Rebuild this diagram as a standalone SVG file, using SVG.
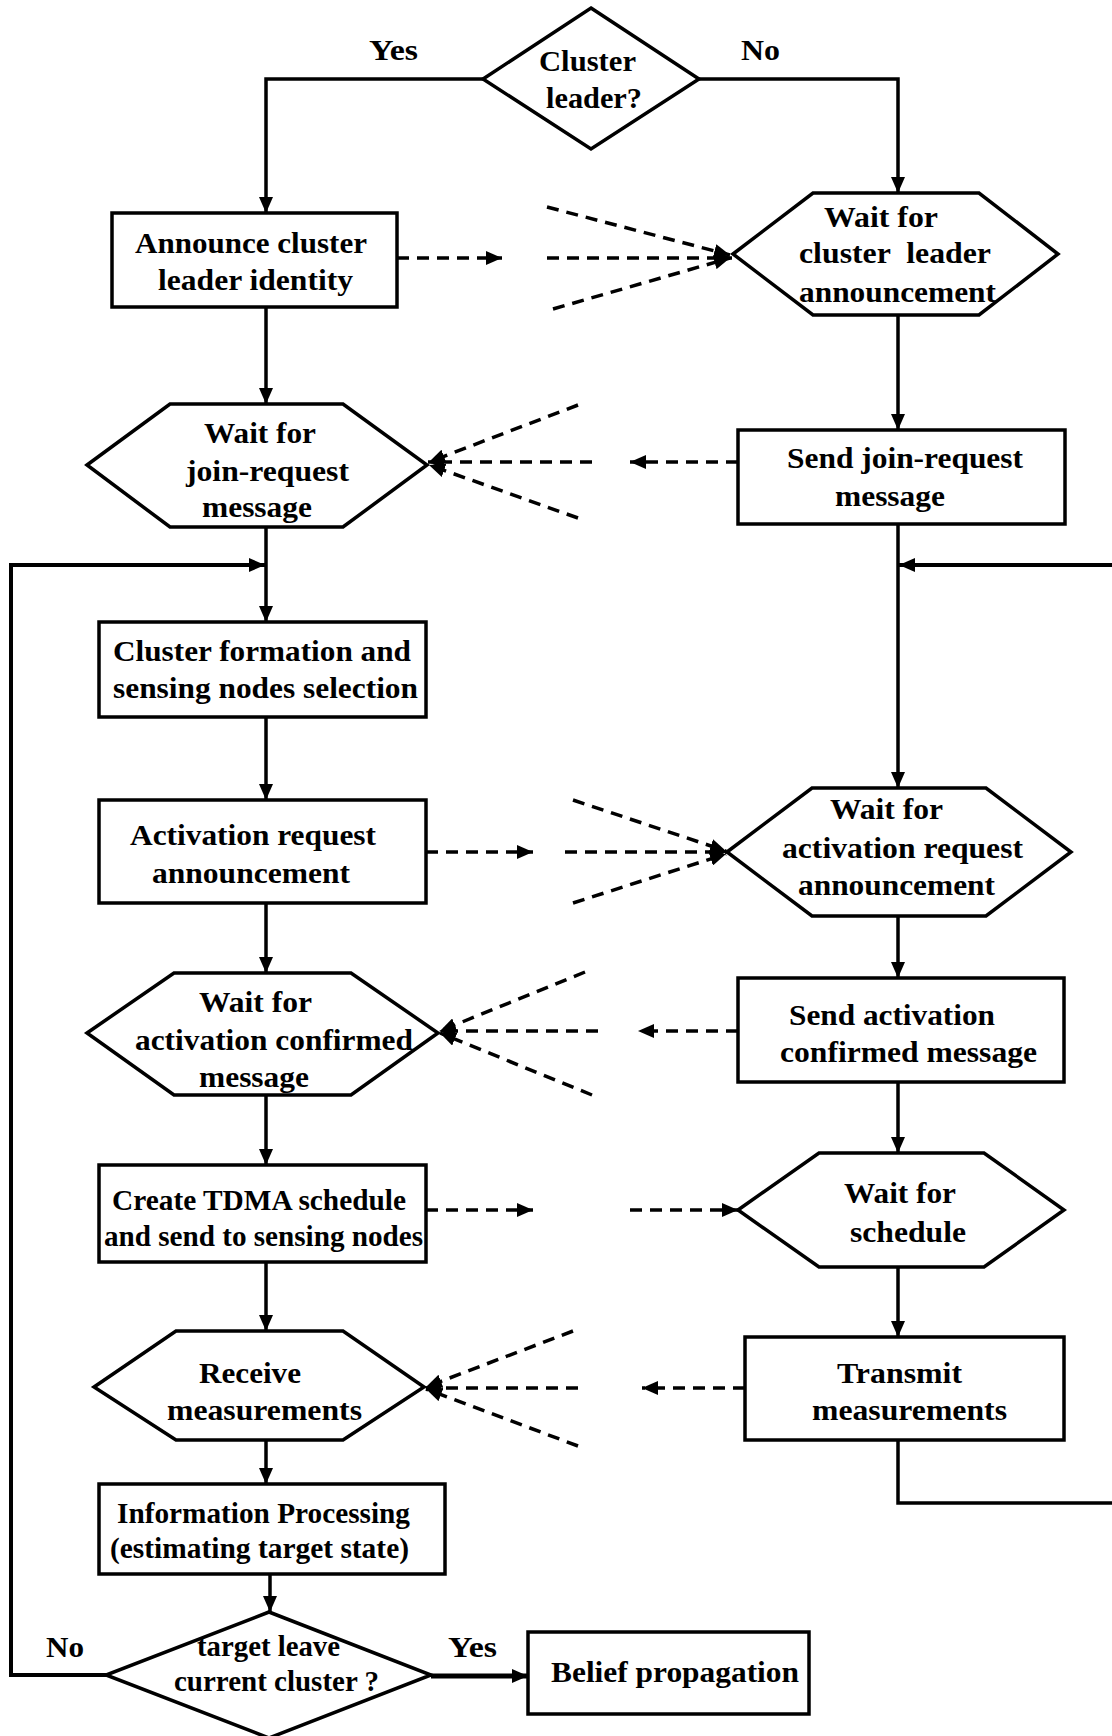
<svg xmlns="http://www.w3.org/2000/svg" width="1112" height="1736" viewBox="0 0 1112 1736">
<style>
.shape{fill:#fff;stroke:#000;stroke-width:3.5;stroke-linejoin:miter}
.ln{fill:none;stroke:#000;stroke-width:3.5}
.thick{stroke-width:5}
.dash{fill:none;stroke:#000;stroke-width:3.5;stroke-dasharray:12 8}
text{font-family:"Liberation Serif","Times New Roman",serif;font-weight:bold;font-size:30px;fill:#000}
</style>
<defs>
<marker id="ah" markerUnits="userSpaceOnUse" markerWidth="16" markerHeight="14" refX="16" refY="7" orient="auto">
<path d="M0,0 L16,7 L0,14 z" fill="#000"/>
</marker>
</defs>
<rect width="1112" height="1736" fill="#fff"/>

<g id="connectors">
<path class="ln" d="M483,79 H266 V213" marker-end="url(#ah)"/>
<path class="ln" d="M699,79 H898 V193" marker-end="url(#ah)"/>
<path class="ln" d="M266,307 V404" marker-end="url(#ah)"/>
<path class="ln" d="M266,527 V622" marker-end="url(#ah)"/>
<path class="ln" d="M266,717 V800" marker-end="url(#ah)"/>
<path class="ln" d="M266,903 V973" marker-end="url(#ah)"/>
<path class="ln" d="M266,1095 V1165" marker-end="url(#ah)"/>
<path class="ln" d="M266,1262 V1331" marker-end="url(#ah)"/>
<path class="ln" d="M266,1440 V1484" marker-end="url(#ah)"/>
<path class="ln" d="M270,1574 V1612" marker-end="url(#ah)"/>
<path class="ln" d="M898,315 V430" marker-end="url(#ah)"/>
<path class="ln" d="M898,524 V788" marker-end="url(#ah)"/>
<path class="ln" d="M898,916 V978" marker-end="url(#ah)"/>
<path class="ln" d="M898,1082 V1153" marker-end="url(#ah)"/>
<path class="ln" d="M898,1267 V1337" marker-end="url(#ah)"/>
<path class="ln" d="M898,1440 V1503 H1112"/>
<path class="ln" style="stroke-width:4" d="M1112,565 H899" marker-end="url(#ah)"/>
<path class="ln" style="stroke-width:4" d="M106,1675 H11 V565 H265" marker-end="url(#ah)"/>
<path class="ln thick" d="M431,1676 H528" marker-end="url(#ah)"/>

<path class="dash" d="M397,258 H502" marker-end="url(#ah)"/>
<path class="dash" d="M547,258 H732" marker-end="url(#ah)"/>
<path class="dash" d="M547,207 L730,255" marker-end="url(#ah)"/>
<path class="dash" d="M553,309 L730,258" marker-end="url(#ah)"/>

<path class="dash" d="M738,462 H630" marker-end="url(#ah)"/>
<path class="dash" d="M592,462 H428" marker-end="url(#ah)"/>
<path class="dash" d="M578,405 L429,462" marker-end="url(#ah)"/>
<path class="dash" d="M578,518 L429,465" marker-end="url(#ah)"/>

<path class="dash" d="M426,852 H533" marker-end="url(#ah)"/>
<path class="dash" d="M565,852 H727" marker-end="url(#ah)"/>
<path class="dash" d="M573,800 L726,851" marker-end="url(#ah)"/>
<path class="dash" d="M573,903 L726,854" marker-end="url(#ah)"/>

<path class="dash" d="M738,1031 H638" marker-end="url(#ah)"/>
<path class="dash" d="M598,1031 H439" marker-end="url(#ah)"/>
<path class="dash" d="M585,972 L440,1031" marker-end="url(#ah)"/>
<path class="dash" d="M592,1095 L440,1033" marker-end="url(#ah)"/>

<path class="dash" d="M426,1210 H533" marker-end="url(#ah)"/>
<path class="dash" d="M630,1210 H738" marker-end="url(#ah)"/>

<path class="dash" d="M745,1388 H642" marker-end="url(#ah)"/>
<path class="dash" d="M578,1388 H425" marker-end="url(#ah)"/>
<path class="dash" d="M573,1331 L426,1387" marker-end="url(#ah)"/>
<path class="dash" d="M578,1446 L426,1389" marker-end="url(#ah)"/>
</g>

<g id="labels">
<text x="369" y="60" textLength="49" lengthAdjust="spacingAndGlyphs">Yes</text>
<text x="741" y="60" textLength="39" lengthAdjust="spacingAndGlyphs">No</text>
<text x="46" y="1657" textLength="38" lengthAdjust="spacingAndGlyphs">No</text>
<text x="448" y="1657" textLength="49" lengthAdjust="spacingAndGlyphs">Yes</text>
</g>

<g id="n-cluster-leader">
<polygon class="shape" points="591,8 699,79 591,149 483,79"/>
<text x="539" y="71" textLength="97" lengthAdjust="spacingAndGlyphs">Cluster</text>
<text x="546" y="108" textLength="96" lengthAdjust="spacingAndGlyphs">leader?</text>
</g>

<g id="n-announce">
<rect class="shape" x="112" y="213" width="285" height="94"/>
<text x="135" y="253" textLength="232" lengthAdjust="spacingAndGlyphs">Announce cluster</text>
<text x="158" y="290" textLength="195" lengthAdjust="spacingAndGlyphs">leader identity</text>
</g>

<g id="n-wait-announcement">
<polygon class="shape" points="733,254 813,193 979,193 1058,254 979,315 813,315"/>
<text x="824" y="227" textLength="114" lengthAdjust="spacingAndGlyphs">Wait for</text>
<text x="799" y="263" textLength="192" lengthAdjust="spacingAndGlyphs" xml:space="preserve">cluster  leader</text>
<text x="799" y="302" textLength="197" lengthAdjust="spacingAndGlyphs">announcement</text>
</g>

<g id="n-wait-join">
<polygon class="shape" points="87,465 170,404 343,404 427,465 343,527 170,527"/>
<text x="204" y="443" textLength="112" lengthAdjust="spacingAndGlyphs">Wait for</text>
<text x="186" y="481" textLength="163" lengthAdjust="spacingAndGlyphs">join-request</text>
<text x="202" y="517" textLength="110" lengthAdjust="spacingAndGlyphs">message</text>
</g>

<g id="n-send-join">
<rect class="shape" x="738" y="430" width="327" height="94"/>
<text x="787" y="468" textLength="236" lengthAdjust="spacingAndGlyphs">Send join-request</text>
<text x="835" y="506" textLength="110" lengthAdjust="spacingAndGlyphs">message</text>
</g>

<g id="n-cluster-formation">
<rect class="shape" x="99" y="622" width="327" height="95"/>
<text x="113" y="661" textLength="298" lengthAdjust="spacingAndGlyphs">Cluster formation and</text>
<text x="113" y="698" textLength="305" lengthAdjust="spacingAndGlyphs">sensing nodes selection</text>
</g>

<g id="n-activation-request">
<rect class="shape" x="99" y="800" width="327" height="103"/>
<text x="130" y="845" textLength="246" lengthAdjust="spacingAndGlyphs">Activation request</text>
<text x="152" y="883" textLength="198" lengthAdjust="spacingAndGlyphs">announcement</text>
</g>

<g id="n-wait-activation-request">
<polygon class="shape" points="727,852 812,788 986,788 1071,852 986,916 812,916"/>
<text x="830" y="819" textLength="113" lengthAdjust="spacingAndGlyphs">Wait for</text>
<text x="782" y="858" textLength="241" lengthAdjust="spacingAndGlyphs">activation request</text>
<text x="798" y="895" textLength="197" lengthAdjust="spacingAndGlyphs">announcement</text>
</g>

<g id="n-send-activation">
<rect class="shape" x="738" y="978" width="326" height="104"/>
<text x="789" y="1025" textLength="206" lengthAdjust="spacingAndGlyphs">Send activation</text>
<text x="780" y="1062" textLength="257" lengthAdjust="spacingAndGlyphs">confirmed message</text>
</g>

<g id="n-wait-activation-confirmed">
<polygon class="shape" points="87,1033 174,973 351,973 438,1033 351,1095 174,1095"/>
<text x="199" y="1012" textLength="113" lengthAdjust="spacingAndGlyphs">Wait for</text>
<text x="135" y="1050" textLength="278" lengthAdjust="spacingAndGlyphs">activation confirmed</text>
<text x="199" y="1087" textLength="110" lengthAdjust="spacingAndGlyphs">message</text>
</g>

<g id="n-create-tdma">
<rect class="shape" x="99" y="1165" width="327" height="97"/>
<text x="112" y="1210" textLength="294" lengthAdjust="spacingAndGlyphs">Create TDMA schedule</text>
<text x="104" y="1246" textLength="319" lengthAdjust="spacingAndGlyphs">and send to sensing nodes</text>
</g>

<g id="n-wait-schedule">
<polygon class="shape" points="738,1210 819,1153 984,1153 1064,1210 984,1267 819,1267"/>
<text x="844" y="1203" textLength="112" lengthAdjust="spacingAndGlyphs">Wait for</text>
<text x="850" y="1242" textLength="116" lengthAdjust="spacingAndGlyphs">schedule</text>
</g>

<g id="n-receive">
<polygon class="shape" points="94,1387 176,1331 343,1331 424,1387 343,1440 176,1440"/>
<text x="199" y="1383" textLength="102" lengthAdjust="spacingAndGlyphs">Receive</text>
<text x="167" y="1420" textLength="195" lengthAdjust="spacingAndGlyphs">measurements</text>
</g>

<g id="n-transmit">
<rect class="shape" x="745" y="1337" width="319" height="103"/>
<text x="837" y="1383" textLength="125" lengthAdjust="spacingAndGlyphs">Transmit</text>
<text x="812" y="1420" textLength="195" lengthAdjust="spacingAndGlyphs">measurements</text>
</g>

<g id="n-info-processing">
<rect class="shape" x="99" y="1484" width="346" height="90"/>
<text x="117" y="1523" textLength="293" lengthAdjust="spacingAndGlyphs">Information Processing</text>
<text x="110" y="1558" textLength="299" lengthAdjust="spacingAndGlyphs">(estimating target state)</text>
</g>

<g id="n-target-leave">
<polygon class="shape" points="269,1612 431,1675 269,1738 106,1675"/>
<text x="197" y="1656" textLength="143" lengthAdjust="spacingAndGlyphs">target leave</text>
<text x="174" y="1691" textLength="205" lengthAdjust="spacingAndGlyphs">current cluster ?</text>
</g>

<g id="n-belief">
<rect class="shape" x="528" y="1632" width="281" height="82"/>
<text x="551" y="1682" textLength="248" lengthAdjust="spacingAndGlyphs">Belief propagation</text>
</g>
</svg>
